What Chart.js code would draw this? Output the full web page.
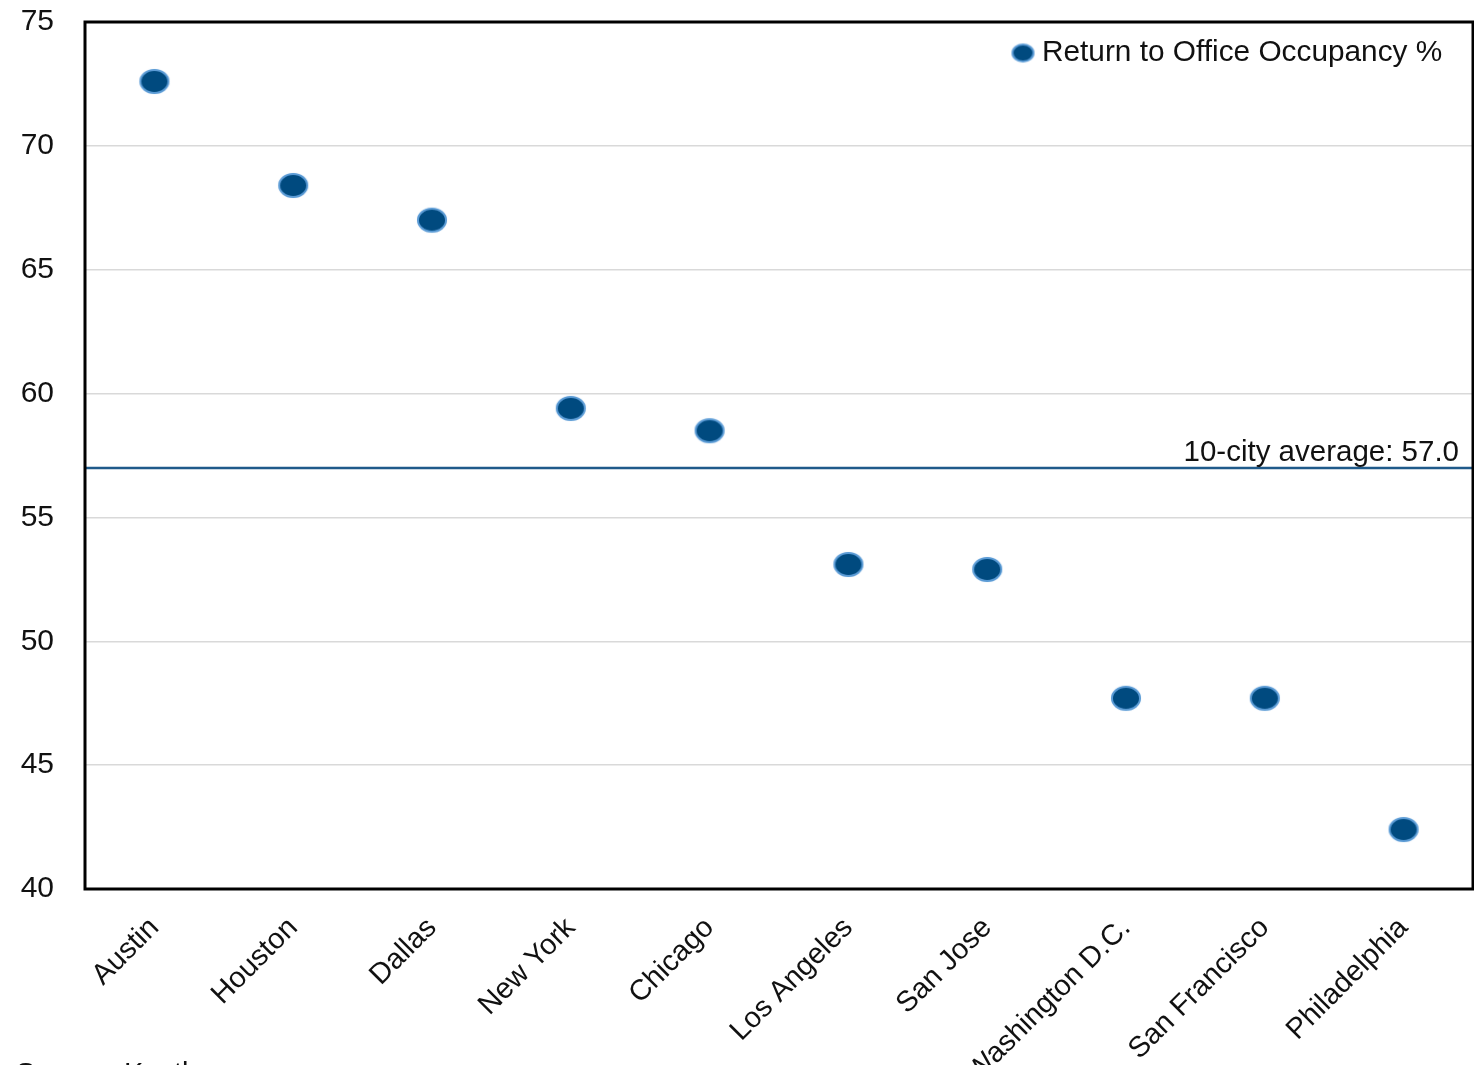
<!DOCTYPE html>
<html>
<head>
<meta charset="utf-8">
<title>Return to Office Occupancy</title>
<script src="https://cdn.jsdelivr.net/npm/chart.js@4.4.1/dist/chart.umd.min.js"></script>
<style>
  html, body { margin: 0; padding: 0; background: #ffffff; }
  #wrap { width: 1474px; height: 1065px; position: relative; overflow: hidden; }
</style>
</head>
<body>
<div id="wrap"><canvas id="chart" width="1474" height="1065"></canvas></div>
<script>
// City occupancy readings (%)
const cities = ['Austin', 'Houston', 'Dallas', 'New York', 'Chicago', 'Los Angeles',
                'San Jose', 'Washington D.C.', 'San Francisco', 'Philadelphia'];
const occupancy = [72.6, 68.4, 67.0, 59.4, 58.5, 53.1, 52.9, 47.7, 47.7, 42.4];
const cityAverage = 57.0;
const yTicks = [40, 45, 50, 55, 60, 65, 70, 75];

const seriesName = 'Return to Office Occupancy %';
const averageText = '10-city average: ' + cityAverage.toFixed(1);
const sourceText = 'Source: Kastle';

const FONT = '"Liberation Sans", Arial, sans-serif';
const DOT_FILL = '#004a7f';
const DOT_EDGE = '#5b9bd5';

// Oval marker used both for the points and the legend swatch
function makeOval(w, h) {
  const c = document.createElement('canvas');
  c.width = w + 6; c.height = h + 6;
  const g = c.getContext('2d');
  g.beginPath();
  g.ellipse(c.width / 2, c.height / 2, w / 2 - 1, h / 2 - 1, 0, 0, Math.PI * 2);
  g.fillStyle = DOT_FILL;
  g.shadowColor = 'rgba(91,155,213,0.8)';
  g.shadowBlur = 2;
  g.fill();
  g.shadowBlur = 0;
  g.lineWidth = 2;
  g.strokeStyle = DOT_EDGE;
  g.stroke();
  return c;
}
const pointOval = makeOval(30, 25);
const legendOval = makeOval(23, 19);

const decorations = {
  id: 'decorations',
  beforeDatasetsDraw(chart) {
    const { ctx, chartArea: a, scales } = chart;
    // average line
    const y = scales.y.getPixelForValue(cityAverage);
    ctx.save();
    ctx.strokeStyle = '#1f5a8a';
    ctx.lineWidth = 2.5;
    ctx.beginPath();
    ctx.moveTo(a.left, y);
    ctx.lineTo(a.right, y);
    ctx.stroke();
    ctx.fillStyle = '#111';
    ctx.font = '29.5px ' + FONT;
    ctx.textAlign = 'right';
    ctx.textBaseline = 'alphabetic';
    ctx.fillText(averageText, a.right - 14, y - 7);
    ctx.restore();
  },
  afterDraw(chart) {
    const { ctx, chartArea: a } = chart;
    ctx.save();
    // plot frame
    ctx.strokeStyle = '#000';
    ctx.lineWidth = 3;
    ctx.strokeRect(a.left, a.top, a.right - a.left, a.bottom - a.top);
    // legend
    ctx.drawImage(legendOval, 1023 - legendOval.width / 2, 53 - legendOval.height / 2);
    ctx.fillStyle = '#111';
    ctx.font = '29.8px ' + FONT;
    ctx.textAlign = 'left';
    ctx.textBaseline = 'middle';
    ctx.fillText(seriesName, 1042, 53);
    // source line
    ctx.font = '29px ' + FONT;
    ctx.textBaseline = 'alphabetic';
    ctx.fillText(sourceText, 16, 1083);
    ctx.restore();
  }
};

new Chart(document.getElementById('chart'), {
  type: 'line',
  data: {
    labels: cities,
    datasets: [{
      label: seriesName,
      data: occupancy,
      showLine: false,
      pointStyle: pointOval,
      pointRadius: 14,
      pointHoverRadius: 14
    }]
  },
  options: {
    responsive: false,
    animation: false,
    devicePixelRatio: 1,
    layout: { autoPadding: false, padding: { top: 22, right: 1, left: 0, bottom: 0 } },
    plugins: {
      legend: { display: false },
      tooltip: { enabled: false }
    },
    scales: {
      x: {
        type: 'category',
        offset: true,
        grid: { display: false, drawTicks: false },
        border: { display: false },
        ticks: {
          color: '#111',
          font: { family: FONT, size: 29 },
          minRotation: 45,
          maxRotation: 45,
          padding: 22,
          autoSkip: false
        },
        afterFit(scale) {
          scale.height = 176;
          scale.paddingLeft = 0;
          scale.paddingRight = 0;
        }
      },
      y: {
        min: 40,
        max: 75,
        afterBuildTicks(scale) { scale.ticks = yTicks.map(v => ({ value: v })); },
        grid: { color: '#d9d9d9', lineWidth: 1.5, drawTicks: false },
        border: { display: false },
        ticks: {
          color: '#111',
          font: { family: FONT, size: 30 },
          padding: 31
        },
        afterFit(scale) {
          scale.width = 85;
          scale.paddingTop = 0;
          scale.paddingBottom = 0;
        }
      }
    }
  },
  plugins: [decorations]
});
</script>
</body>
</html>
